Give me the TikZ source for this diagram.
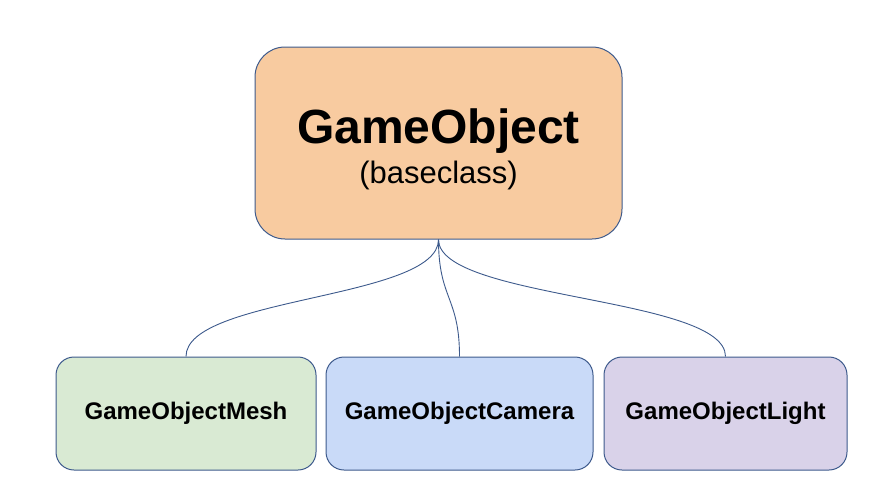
\documentclass[tikz,border=0pt]{standalone}
\usepackage{fontspec}
\setmainfont{Liberation Sans}
\definecolor{edge}{HTML}{3D5A8C}
\definecolor{orangefill}{HTML}{F8CBA0}
\definecolor{greenfill}{HTML}{D9EAD3}
\definecolor{bluefill}{HTML}{C9DAF8}
\definecolor{purplefill}{HTML}{D9D2E9}
\begin{document}
\begin{tikzpicture}[x=1pt,y=-1pt,
  basebox/.style={draw=edge, line width=1pt, rectangle, inner sep=0pt},
  topbox/.style={basebox, fill=orangefill, rounded corners=30pt, minimum width=367pt, minimum height=192pt},
  childbox/.style={basebox, rounded corners=18pt, minimum height=113pt, font=\fontsize{24}{28}\selectfont\bfseries},
  titletext/.style={inner sep=0pt, font=\fontsize{48}{52}\selectfont\bfseries},
  subtext/.style={inner sep=0pt, font=\fontsize{31}{36}\selectfont},
  link/.style={draw=edge, line width=0.9pt}]
\useasboundingbox (0,0) rectangle (893,490);
\node[topbox] (top) at (438.5,143) {};
\node[titletext, anchor=base] (title) at (438.5,143) {GameObject};
\node[subtext, anchor=base] (sub) at (438.5,183) {(baseclass)};
\node[childbox, fill=greenfill, minimum width=260pt] (mesh) at (186,413.5) {GameObjectMesh};
\node[childbox, fill=bluefill, minimum width=267pt] (camera) at (459.5,413.5) {GameObjectCamera};
\node[childbox, fill=purplefill, minimum width=243pt] (light) at (725.5,413.5) {GameObjectLight};
\draw[link] (top.south) .. controls +(0,60) and +(0,-60) .. (mesh.north);
\draw[link] (top.south) .. controls +(0,60) and +(0,-60) .. (camera.north);
\draw[link] (top.south) .. controls +(0,60) and +(0,-60) .. (light.north);
\end{tikzpicture}
\end{document}
